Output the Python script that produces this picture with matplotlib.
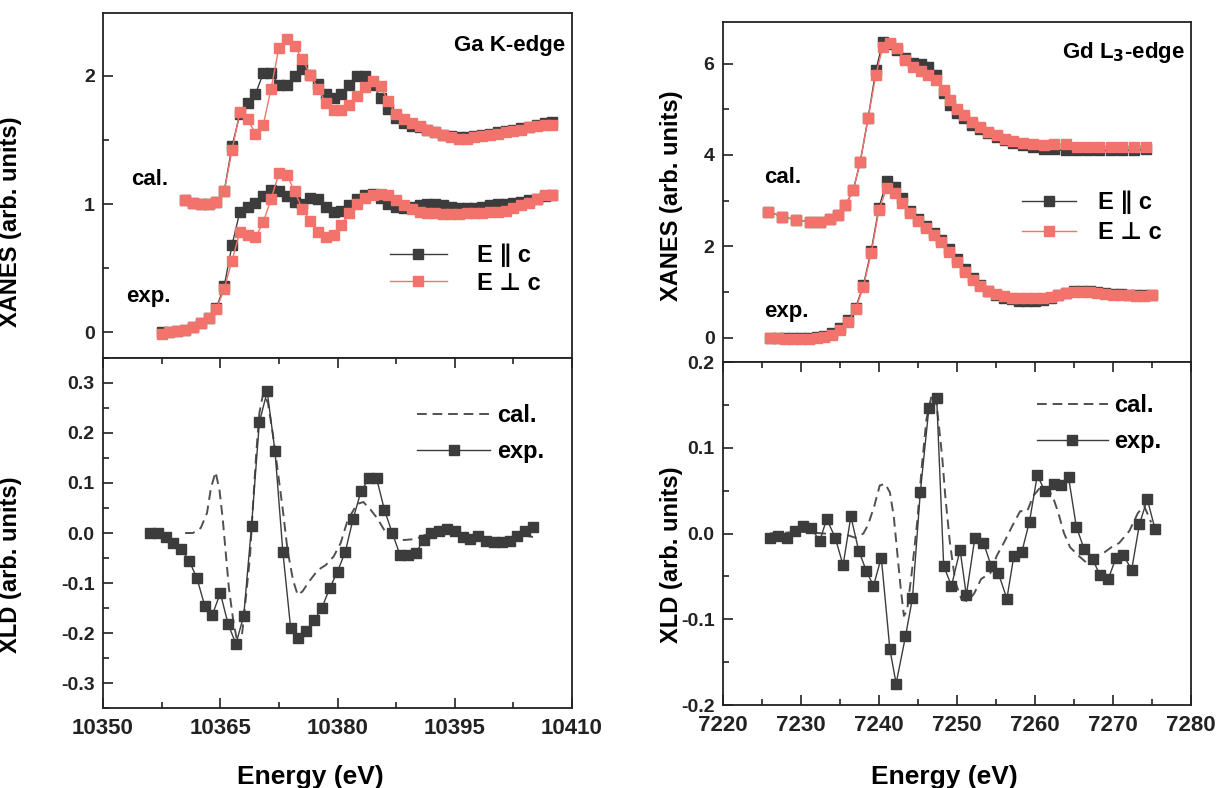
import matplotlib
matplotlib.use("Agg")
import matplotlib.pyplot as plt
from matplotlib.ticker import MultipleLocator, FormatStrFormatter

plt.rcParams['font.family'] = ['Liberation Sans', 'DejaVu Sans']
plt.rcParams['font.weight'] = 'bold'
plt.rcParams['axes.labelweight'] = 'bold'
plt.rcParams['axes.unicode_minus'] = False
plt.rcParams['mathtext.fontset'] = 'dejavusans'

DARK = '#3c3c3c'
RED = '#f2736c'

# ---- Ga K-edge XANES ----
ga_cal_E = [10360.5, 10361.5, 10362.5, 10363.5, 10364.5, 10365.5, 10366.5, 10367.5, 10368.5, 10369.5,
            10370.5, 10371.5, 10372.5, 10373.5, 10374.5, 10375.5, 10376.5, 10377.5, 10378.5, 10379.5,
            10380.5, 10381.5, 10382.5, 10383.5, 10384.5, 10385.5, 10386.5, 10387.5, 10388.5, 10389.5,
            10390.5, 10391.5, 10392.5, 10393.5, 10394.5, 10395.5, 10396.5, 10397.5, 10398.5, 10399.5,
            10400.5, 10401.5, 10402.5, 10403.5, 10404.5, 10405.5, 10406.5, 10407.5]
ga_cal_par = [1.03, 1.01, 1.00, 1.00, 1.02, 1.10, 1.45, 1.70, 1.79, 1.86,
              2.02, 2.02, 1.93, 1.93, 2.00, 2.05, 2.01, 1.94, 1.86, 1.83,
              1.86, 1.93, 2.00, 2.00, 1.93, 1.83, 1.74, 1.67, 1.63, 1.61,
              1.60, 1.58, 1.56, 1.54, 1.53, 1.52, 1.52, 1.53, 1.54, 1.55,
              1.56, 1.57, 1.58, 1.59, 1.60, 1.62, 1.63, 1.64]
ga_cal_perp = [1.03, 1.01, 1.00, 1.00, 1.02, 1.10, 1.42, 1.72, 1.66, 1.55,
               1.62, 1.90, 2.22, 2.29, 2.23, 2.13, 2.01, 1.90, 1.79, 1.73,
               1.73, 1.77, 1.84, 1.91, 1.96, 1.92, 1.80, 1.70, 1.66, 1.63,
               1.61, 1.58, 1.56, 1.54, 1.52, 1.51, 1.51, 1.52, 1.53, 1.54,
               1.55, 1.56, 1.57, 1.58, 1.60, 1.61, 1.62, 1.62]

ga_exp_E = [10357.5, 10358.5, 10359.5, 10360.5, 10361.5, 10362.5, 10363.5, 10364.5, 10365.5, 10366.5,
            10367.5, 10368.5, 10369.5, 10370.5, 10371.5, 10372.5, 10373.5, 10374.5, 10375.5, 10376.5,
            10377.5, 10378.5, 10379.5, 10380.5, 10381.5, 10382.5, 10383.5, 10384.5, 10385.5, 10386.5,
            10387.5, 10388.5, 10389.5, 10390.5, 10391.5, 10392.5, 10393.5, 10394.5, 10395.5, 10396.5,
            10397.5, 10398.5, 10399.5, 10400.5, 10401.5, 10402.5, 10403.5, 10404.5, 10405.5, 10406.5,
            10407.5]
ga_exp_par = [0.00, 0.00, 0.01, 0.02, 0.04, 0.07, 0.11, 0.19, 0.36, 0.68,
              0.94, 0.98, 1.01, 1.06, 1.11, 1.10, 1.06, 1.02, 1.00, 1.05,
              1.04, 0.98, 0.94, 0.95, 0.99, 1.04, 1.07, 1.08, 1.05, 1.00,
              0.98, 0.97, 0.98, 0.99, 1.00, 1.00, 0.99, 0.98, 0.97, 0.97,
              0.97, 0.98, 0.99, 1.00, 1.00, 1.01, 1.02, 1.03, 1.04, 1.06,
              1.07]
ga_exp_perp = [-0.01, 0.00, 0.01, 0.02, 0.04, 0.07, 0.11, 0.18, 0.34, 0.56,
               0.78, 0.76, 0.74, 0.86, 1.04, 1.24, 1.23, 1.10, 0.96, 0.87,
               0.78, 0.74, 0.76, 0.84, 0.93, 1.00, 1.05, 1.07, 1.08, 1.07,
               1.03, 0.99, 0.96, 0.94, 0.93, 0.93, 0.92, 0.92, 0.92, 0.93,
               0.93, 0.93, 0.94, 0.94, 0.95, 0.97, 0.99, 1.01, 1.04, 1.07,
               1.07]

# ---- Ga K-edge XLD ----
ga_xld_exp_E = [10356, 10357, 10358, 10359, 10360, 10361, 10362, 10363, 10364, 10365,
                10366, 10367, 10368, 10369, 10370, 10371, 10372, 10373, 10374, 10375,
                10376, 10377, 10378, 10379, 10380, 10381, 10382, 10383, 10384, 10385,
                10386, 10387, 10388, 10389, 10390, 10391, 10392, 10393, 10394, 10395,
                10396, 10397, 10398, 10399, 10400, 10401, 10402, 10403, 10404, 10405]
ga_xld_exp = [0.000, 0.000, -0.008, -0.020, -0.032, -0.055, -0.090, -0.145, -0.163, -0.120,
              -0.182, -0.222, -0.165, 0.015, 0.222, 0.283, 0.163, -0.037, -0.190, -0.210,
              -0.195, -0.174, -0.150, -0.110, -0.077, -0.037, 0.029, 0.083, 0.109, 0.109,
              0.046, 0.000, -0.044, -0.044, -0.040, -0.014, 0.000, 0.005, 0.008, 0.005,
              -0.008, -0.011, -0.005, -0.015, -0.018, -0.018, -0.015, -0.005, 0.005, 0.012]
ga_xld_cal_E = [10360.5, 10361.5, 10362.5, 10363.3, 10363.8, 10364.4, 10364.9, 10365.3, 10365.7, 10366.1,
                10366.7, 10367.3, 10367.8, 10368.2, 10368.8, 10369.2, 10369.6, 10370.0, 10370.5, 10371.1,
                10371.7, 10372.3, 10373.0, 10373.6, 10374.3, 10374.9, 10375.5, 10376.5, 10377.5, 10378.5,
                10379.5, 10380.4, 10381.3, 10382.5, 10383.3, 10384.2, 10385.1, 10386.2, 10387.4, 10388.5,
                10390.0, 10391.0, 10392.0, 10394.0, 10396.0, 10398.0, 10400.0, 10402.0, 10404.0, 10405.0]
ga_xld_cal = [0.000, 0.000, 0.010, 0.040, 0.090, 0.122, 0.085, 0.030, -0.040, -0.110,
              -0.180, -0.227, -0.200, -0.140, -0.047, 0.060, 0.160, 0.240, 0.280, 0.260,
              0.200, 0.130, 0.046, -0.034, -0.094, -0.124, -0.117, -0.094, -0.074, -0.064,
              -0.047, -0.020, 0.026, 0.058, 0.062, 0.047, 0.029, 0.000, -0.010, -0.014,
              -0.012, -0.005, 0.000, 0.000, -0.005, -0.008, -0.012, -0.012, -0.005, -0.008]

# ---- Gd L3-edge XANES ----
gd_cal_E = [7225.8, 7227.6, 7229.4, 7231.1, 7232.4, 7233.7, 7234.8, 7235.7, 7236.7, 7237.6,
            7238.6, 7239.6, 7240.5, 7241.4, 7242.3, 7243.3, 7244.4, 7245.4, 7246.3, 7247.3,
            7248.3, 7249.1, 7250.0, 7250.9, 7251.9, 7252.9, 7254.0, 7255.1, 7256.2, 7257.2,
            7258.5, 7259.8, 7261.1, 7262.5, 7264.0, 7265.4, 7266.8, 7268.2, 7269.7, 7271.2,
            7272.7, 7274.2]
gd_cal_par = [2.76, 2.65, 2.58, 2.54, 2.54, 2.60, 2.68, 2.90, 3.23, 3.85,
              4.80, 5.85, 6.48, 6.42, 6.30, 6.12, 6.02, 5.98, 5.92, 5.75,
              5.35, 5.10, 4.92, 4.80, 4.66, 4.56, 4.47, 4.40, 4.33, 4.27,
              4.22, 4.18, 4.14, 4.12, 4.10, 4.10, 4.10, 4.10, 4.10, 4.10,
              4.11, 4.12]
gd_cal_perp = [2.76, 2.65, 2.58, 2.54, 2.54, 2.60, 2.68, 2.90, 3.23, 3.85,
               4.80, 5.75, 6.37, 6.44, 6.33, 6.08, 5.92, 5.84, 5.76, 5.64,
               5.42, 5.20, 5.00, 4.87, 4.72, 4.61, 4.50, 4.43, 4.36, 4.30,
               4.26, 4.23, 4.22, 4.24, 4.24, 4.18, 4.17, 4.17, 4.17, 4.17,
               4.17, 4.17]

gd_exp_E = [7226, 7227, 7228, 7229, 7230, 7231, 7232, 7233, 7234, 7235,
            7236, 7237, 7238, 7239, 7240, 7241, 7242, 7243, 7244, 7245,
            7246, 7247, 7248, 7249, 7250, 7251, 7252, 7253, 7254, 7255,
            7256, 7257, 7258, 7259, 7260, 7261, 7262, 7263, 7264, 7265,
            7266, 7267, 7268, 7269, 7270, 7271, 7272, 7273, 7274, 7275]
gd_exp_par = [0.00, -0.01, -0.01, 0.00, 0.00, 0.00, 0.01, 0.04, 0.10, 0.22,
              0.38, 0.65, 1.15, 1.90, 2.85, 3.42, 3.30, 3.05, 2.78, 2.60,
              2.45, 2.30, 2.15, 1.95, 1.72, 1.50, 1.30, 1.15, 1.03, 0.94,
              0.88, 0.84, 0.81, 0.80, 0.81, 0.83, 0.87, 0.93, 0.99, 1.02,
              1.03, 1.02, 1.00, 0.98, 0.96, 0.95, 0.94, 0.93, 0.93, 0.94]
gd_exp_perp = [0.00, -0.01, -0.02, -0.02, -0.02, -0.02, -0.01, 0.01, 0.06, 0.18,
               0.34, 0.62, 1.12, 1.85, 2.80, 3.28, 3.17, 2.95, 2.72, 2.55,
               2.40, 2.25, 2.09, 1.87, 1.66, 1.45, 1.27, 1.13, 1.02, 0.95,
               0.91, 0.88, 0.87, 0.86, 0.87, 0.88, 0.90, 0.94, 0.98, 1.00,
               1.01, 1.00, 0.98, 0.96, 0.94, 0.93, 0.93, 0.92, 0.92, 0.93]

# ---- Gd L3-edge XLD ----
gd_xld_exp_E = [7226.0, 7227.1, 7228.2, 7229.2, 7230.3, 7231.3, 7232.4, 7233.3, 7234.4, 7235.4,
                7236.4, 7237.4, 7238.4, 7239.3, 7240.3, 7241.4, 7242.2, 7243.4, 7244.3, 7245.3,
                7246.4, 7247.4, 7248.3, 7249.3, 7250.4, 7251.2, 7252.3, 7253.4, 7254.4, 7255.3,
                7256.4, 7257.3, 7258.3, 7259.3, 7260.3, 7261.3, 7262.4, 7263.3, 7264.3, 7265.3,
                7266.3, 7267.4, 7268.3, 7269.4, 7270.4, 7271.3, 7272.4, 7273.4, 7274.4, 7275.4]
gd_xld_exp = [-0.005, -0.003, -0.005, 0.003, 0.009, 0.007, -0.009, 0.017, -0.005, -0.037,
              0.020, -0.020, -0.044, -0.061, -0.028, -0.135, -0.175, -0.120, -0.075, 0.048,
              0.146, 0.158, -0.038, -0.061, -0.019, -0.072, -0.005, -0.011, -0.038, -0.046,
              -0.076, -0.026, -0.022, 0.014, 0.068, 0.049, 0.058, 0.056, 0.066, 0.008,
              -0.018, -0.030, -0.048, -0.053, -0.028, -0.025, -0.042, 0.011, 0.040, 0.005]
gd_xld_cal_E = [7226.0, 7230.0, 7233.0, 7236.0, 7237.0, 7238.0, 7238.6, 7239.4, 7240.1, 7240.8,
                7241.4, 7241.9, 7242.3, 7242.8, 7243.2, 7243.6, 7244.2, 7244.9, 7245.5, 7246.1,
                7246.8, 7247.4, 7248.1, 7248.5, 7249.1, 7249.8, 7250.6, 7251.4, 7252.2, 7253.1,
                7254.3, 7255.1, 7256.0, 7257.1, 7258.1, 7259.0, 7259.8, 7260.7, 7261.7, 7262.4,
                7263.0, 7263.7, 7264.5, 7265.6, 7266.6, 7267.7, 7268.9, 7269.8, 7270.8, 7272.1,
                7273.2, 7274.0, 7274.9]
gd_xld_cal = [0.000, 0.002, 0.000, -0.002, -0.005, 0.000, 0.010, 0.032, 0.056, 0.058,
              0.048, 0.020, -0.018, -0.065, -0.096, -0.090, -0.046, 0.013, 0.079, 0.134,
              0.163, 0.150, 0.090, 0.044, -0.011, -0.057, -0.077, -0.079, -0.070, -0.053,
              -0.046, -0.026, -0.011, 0.009, 0.026, 0.026, 0.044, 0.054, 0.052, 0.040,
              0.024, 0.001, -0.016, -0.026, -0.034, -0.028, -0.022, -0.016, -0.011, 0.003,
              0.024, 0.032, 0.013]

# plain text labels; DejaVu gives the parallel sign, the CJK font the perpendicular one
LBL_PAR = 'E \u2225 c'
LBL_PERP = 'E \u22a5 c'
LEG_FONT = {'family': ['Liberation Sans', 'DejaVu Sans', 'Noto Sans CJK JP'],
            'size': 17, 'weight': 'bold'}

fig = plt.figure(figsize=(12.21, 7.88), dpi=100)
ax1 = fig.add_axes([0.0844, 0.5457, 0.3841, 0.4378])
ax2 = fig.add_axes([0.0844, 0.1015, 0.3841, 0.4442])
ax3 = fig.add_axes([0.5921, 0.5406, 0.3833, 0.4315])
ax4 = fig.add_axes([0.5921, 0.1053, 0.3833, 0.4353])

for ax in (ax1, ax2, ax3, ax4):
    for sp in ax.spines.values():
        sp.set_linewidth(1.3)
        sp.set_color('#222222')
    ax.tick_params(which='both', direction='in', width=1.2, colors='#222222')
    ax.tick_params(which='major', length=7)
    ax.tick_params(which='minor', length=4)
    ax.tick_params(axis='y', labelsize=14, pad=6)
    ax.tick_params(axis='x', labelsize=16, pad=7)


def xanes(ax, E, y, color, label=None):
    ax.plot(E, y, '-s', color=color, lw=1.0, ms=6.5, mec=color, mfc=color, label=label)


# top-left: Ga K-edge XANES
xanes(ax1, ga_cal_E, ga_cal_par, DARK)
xanes(ax1, ga_exp_E, ga_exp_par, DARK, LBL_PAR)
xanes(ax1, ga_cal_E, ga_cal_perp, RED)
xanes(ax1, ga_exp_E, ga_exp_perp, RED, LBL_PERP)
ax1.set_xlim(10350, 10410)
ax1.set_ylim(-0.2, 2.49)
ax1.yaxis.set_major_locator(MultipleLocator(1))
ax1.yaxis.set_minor_locator(MultipleLocator(0.5))
ax1.set_xticks([])
ax1.set_ylabel('XANES (arb. units)', fontsize=17)
ax1.yaxis.set_label_coords(-0.173, 0.394)
ax1.text(0.10, 0.516, 'cal.', transform=ax1.transAxes, fontsize=16, ha='center', va='center')
ax1.text(0.096, 0.177, 'exp.', transform=ax1.transAxes, fontsize=16, ha='center', va='center')
ax1.text(0.985, 0.907, 'Ga K-edge', transform=ax1.transAxes, fontsize=16, ha='right', va='center')
ax1.legend(loc='center left', bbox_to_anchor=(0.612, 0.258), frameon=False, borderpad=0,
           borderaxespad=0, handlelength=2.4, handletextpad=1.3, labelspacing=0.2,
           prop=LEG_FONT)

# bottom-left: Ga XLD
ax2.plot(ga_xld_cal_E, ga_xld_cal, color='#505050', lw=1.4, ls=(0, (5, 3)), label='cal.')
ax2.plot(ga_xld_exp_E, ga_xld_exp, '-s', color=DARK, lw=1.0, ms=7, label='exp.')
ax2.set_xlim(10350, 10410)
ax2.set_ylim(-0.35, 0.35)
ax2.xaxis.set_major_locator(MultipleLocator(15))
ax2.xaxis.set_minor_locator(MultipleLocator(7.5))
ax2.yaxis.set_major_locator(MultipleLocator(0.1))
ax2.yaxis.set_minor_locator(MultipleLocator(0.05))
ax2.yaxis.set_major_formatter(FormatStrFormatter('%.1f'))
ax2.tick_params(which='both', top=True)
ax2.set_ylabel('XLD (arb. units)', fontsize=17)
ax2.yaxis.set_label_coords(-0.173, 0.409)
ax2.set_xlabel('Energy (eV)', fontsize=19)
ax2.xaxis.set_label_coords(0.441, -0.163)
ax2.legend(loc='center left', bbox_to_anchor=(0.67, 0.784), frameon=False, borderpad=0,
           borderaxespad=0, handlelength=3.1, handletextpad=0.3, labelspacing=0.55,
           prop={'size': 17, 'weight': 'bold'})

# top-right: Gd L3-edge XANES
xanes(ax3, gd_cal_E, gd_cal_par, DARK)
xanes(ax3, gd_exp_E, gd_exp_par, DARK, LBL_PAR)
xanes(ax3, gd_cal_E, gd_cal_perp, RED)
xanes(ax3, gd_exp_E, gd_exp_perp, RED, LBL_PERP)
ax3.set_xlim(7220, 7280)
ax3.set_ylim(-0.53, 6.91)
ax3.yaxis.set_major_locator(MultipleLocator(2))
ax3.yaxis.set_minor_locator(MultipleLocator(1))
ax3.set_xticks([])
ax3.set_ylabel('XANES (arb. units)', fontsize=17)
ax3.yaxis.set_label_coords(-0.085, 0.49)
ax3.text(0.128, 0.544, 'cal.', transform=ax3.transAxes, fontsize=16, ha='center', va='center')
ax3.text(0.135, 0.15, 'exp.', transform=ax3.transAxes, fontsize=16, ha='center', va='center')
ax3.text(0.987, 0.909, 'Gd L$_\\mathbf{3}$-edge', transform=ax3.transAxes, fontsize=16,
         ha='right', va='center')
ax3.legend(loc='center left', bbox_to_anchor=(0.639, 0.425), frameon=False, borderpad=0,
           borderaxespad=0, handlelength=2.3, handletextpad=0.9, labelspacing=0.3,
           prop=LEG_FONT)

# bottom-right: Gd XLD
ax4.plot(gd_xld_cal_E, gd_xld_cal, color='#505050', lw=1.4, ls=(0, (5, 3)), label='cal.')
ax4.plot(gd_xld_exp_E, gd_xld_exp, '-s', color=DARK, lw=1.0, ms=7, label='exp.')
ax4.set_xlim(7220, 7280)
ax4.set_ylim(-0.2, 0.2)
ax4.xaxis.set_major_locator(MultipleLocator(10))
ax4.xaxis.set_minor_locator(MultipleLocator(5))
ax4.yaxis.set_major_locator(MultipleLocator(0.1))
ax4.yaxis.set_minor_locator(MultipleLocator(0.05))
ax4.yaxis.set_major_formatter(FormatStrFormatter('%.1f'))
ax4.tick_params(which='both', top=True)
ax4.set_ylabel('XLD (arb. units)', fontsize=17)
ax4.yaxis.set_label_coords(-0.085, 0.437)
ax4.set_xlabel('Energy (eV)', fontsize=19)
ax4.xaxis.set_label_coords(0.474, -0.175)
ax4.legend(loc='center left', bbox_to_anchor=(0.671, 0.821), frameon=False, borderpad=0,
           borderaxespad=0, handlelength=3.0, handletextpad=0.25, labelspacing=0.55,
           prop={'size': 17, 'weight': 'bold'})

fig.savefig('out.png', dpi=100)
